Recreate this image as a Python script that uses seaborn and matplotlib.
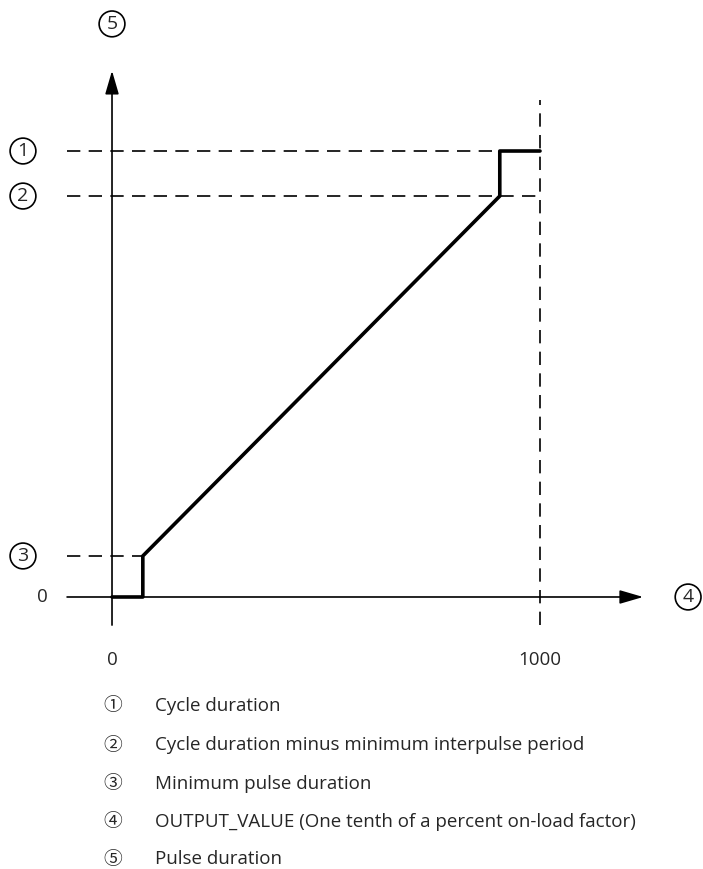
import matplotlib
matplotlib.use("Agg")
import matplotlib.pyplot as plt
import seaborn as sns

sns.set_theme(style="white")
plt.rcParams['font.family'] = ['Open Sans', 'Noto Sans CJK JP', 'DejaVu Sans']

# characteristic curve: OUTPUT_VALUE -> pulse duration
output_value = [0, 72, 72, 906, 906, 1000]
pulse_duration = [0, 0, 92, 899, 1000, 1000]

# reference levels
cycle_duration = 1000
cycle_minus_interpulse = 899
min_pulse = 92
x_max = 1000

x_ticks = [0, 1000]
x_tick_labels = ["0", "1000"]

legend_marks = ["①", "②", "③", "④", "⑤"]
legend_texts = [
    "Cycle duration",
    "Cycle duration minus minimum interpulse period",
    "Minimum pulse duration",
    "OUTPUT_VALUE (One tenth of a percent on-load factor)",
    "Pulse duration",
]

W, H = 703, 869
fig = plt.figure(figsize=(W / 100, H / 100), dpi=100)
ax = fig.add_axes([0, 0, 1, 1])
ax.set_xlim(-261.7, 1380.8)
ax.set_ylim(-609.9, 1338.6)
ax.axis("off")

dash = dict(color="black", lw=1.2, linestyle=(0, (8, 5)))

# dashed guide lines
ax.plot([-105, x_max], [cycle_duration, cycle_duration], **dash)
ax.plot([-105, x_max], [cycle_minus_interpulse, cycle_minus_interpulse], **dash)
ax.plot([-105, output_value[1]], [min_pulse, min_pulse], **dash)
ax.plot([x_max, x_max], [-63, 1114], **dash)

# axes with arrows
arrow = dict(arrowstyle="-|>,head_length=1.2,head_width=0.35", color="black", lw=1.2,
             shrinkA=0, shrinkB=0)
ax.annotate("", xy=(1241, 0), xytext=(-105, 0), arrowprops=arrow)
ax.annotate("", xy=(0, 1180), xytext=(0, -63), arrowprops=arrow)

# the curve
sns.lineplot(x=output_value, y=pulse_duration, sort=False, estimator=None,
             color="black", linewidth=2.6, ax=ax)

circ = dict(boxstyle="circle,pad=0.2", fc="white", ec="black", lw=1.2)
fs = 13.5
cfs = 14
ax.text(-208, cycle_duration, "1", ha="center", va="center", fontsize=cfs, bbox=circ)
ax.text(-208, cycle_minus_interpulse, "2", ha="center", va="center", fontsize=cfs, bbox=circ)
ax.text(-208, min_pulse, "3", ha="center", va="center", fontsize=cfs, bbox=circ)
ax.text(-163, 0, "0", ha="center", va="center", fontsize=fs)
ax.text(1346, 0, "4", ha="center", va="center", fontsize=cfs, bbox=circ)
ax.text(0, 1285, "5", ha="center", va="center", fontsize=cfs, bbox=circ)

for xt, lab in zip(x_ticks, x_tick_labels):
    ax.text(xt, -141, lab, ha="center", va="center", fontsize=fs)

# legend below
rows = [706, 745, 784, 822, 859]
for py, m, t in zip(rows, legend_marks, legend_texts):
    fig.text(113 / W, 1 - py / H, m, ha="center", va="center", fontsize=fs,
             family=['Noto Sans CJK JP', 'DejaVu Sans'])
    fig.text(155 / W, 1 - py / H, t, ha="left", va="center", fontsize=fs)

fig.savefig("out.png", dpi=100)
